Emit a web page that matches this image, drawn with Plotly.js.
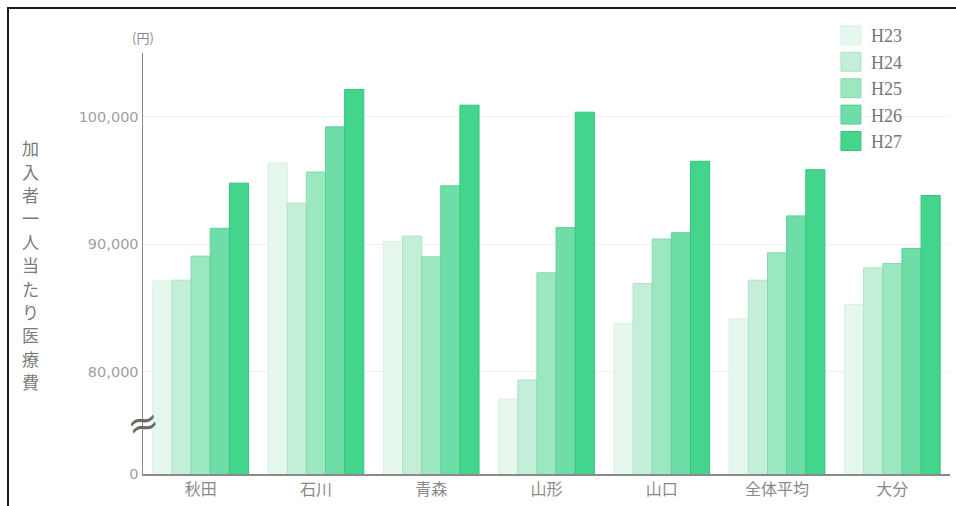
<!DOCTYPE html>
<html>
<head>
<meta charset="utf-8">
<script src="https://cdn.plot.ly/plotly-3.0.1.min.js"></script>
<style>
  html, body { margin: 0; padding: 0; background: #fff; overflow: hidden; }
  #chart { position: absolute; left: 0; top: 0; width: 956px; height: 506px; }
  #frame { position: absolute; left: 7px; top: 7px; width: 970px; height: 530px;
           border: 2.5px solid #1e1e1e; pointer-events: none; }
</style>
</head>
<body>
<div id="chart"></div>
<div id="frame"></div>
<script>
// ---- data ----
const categories = ['秋田', '石川', '青森', '山形', '山口', '全体平均', '大分'];
const seriesNames = ['H23', 'H24', 'H25', 'H26', 'H27'];
const H23 = [87130, 96380, 90210, 77870, 83780, 84170, 85300];
const H24 = [87190, 93230, 90650, 79370, 86930, 87190, 88160];
const H25 = [89080, 95670, 89020, 87770, 90420, 89340, 88500];
const H26 = [91260, 99210, 94590, 91310, 90910, 92230, 89680];
const H27 = [94800, 102140, 100910, 100360, 96510, 95850, 93830];
const tickValues = [72000, 80000, 90000, 100000];
const tickLabels = ['0', '80,000', '90,000', '100,000'];
const yTitleChars = ['加', '入', '者', '一', '人', '当', 'た', 'り', '医', '療', '費'];

// ---- styles ----
const fills = ['#e6f8ee', '#c3eed7', '#9be7c0', '#6fdda7', '#43d58b'];
const edges = ['#d8f0e3', '#b2e2c8', '#88d9b0', '#5ecf97', '#35c67d'];
const allSeries = [H23, H24, H25, H26, H27];

const traces = allSeries.map((vals, i) => ({
  type: 'bar',
  name: seriesNames[i],
  x: categories,
  y: vals,
  marker: { color: fills[i], line: { color: edges[i], width: 1 } },
  hoverinfo: 'x+y+name'
}));

const titleAnnotations = yTitleChars.map((ch, i) => ({
  text: ch, xref: 'paper', yref: 'paper', x: 0, y: 0.497,
  xanchor: 'center', yanchor: 'middle', xshift: -113,
  yshift: -(i - (yTitleChars.length - 1) / 2) * 23.4,
  showarrow: false,
  font: { family: 'Noto Sans CJK JP, sans-serif', size: 17, color: '#7a7a7a' }
}));

const layout = {
  width: 956,
  height: 506,
  margin: { l: 143, r: 6, t: 53, b: 32 },
  paper_bgcolor: '#ffffff',
  plot_bgcolor: '#ffffff',
  barmode: 'group',
  bargap: 0.17,
  bargroupgap: 0,
  showlegend: true,
  legend: {
    x: 0.8525, xanchor: 'left',
    y: 1.085, yanchor: 'top',
    bgcolor: 'rgba(0,0,0,0)',
    font: { family: 'Liberation Serif, serif', size: 18, color: '#777' },
    tracegroupgap: 0
  },
  xaxis: {
    type: 'category',
    showline: true, linecolor: '#8a8a8a', linewidth: 1.5,
    showgrid: false, zeroline: false, ticks: '',
    tickfont: { family: 'Noto Sans CJK JP, sans-serif', size: 16, color: '#8a8a8a' }
  },
  yaxis: {
    range: [72000, 105000],
    tickmode: 'array', tickvals: tickValues, ticktext: tickLabels,
    showline: true, linecolor: '#8a8a8a', linewidth: 1.5,
    showgrid: true, gridcolor: '#f1f1f1', gridwidth: 1,
    zeroline: false, ticks: '',
    tickfont: { family: 'DejaVu Sans, sans-serif', size: 14.5, color: '#a0a0a0' }
  },
  annotations: [
    {
      text: '(円)', xref: 'paper', yref: 'paper', x: 0, y: 1, xanchor: 'center', yanchor: 'bottom',
      yshift: 4, showarrow: false,
      font: { family: 'Noto Sans CJK JP, sans-serif', size: 13, color: '#8a8a8a' }
    },
    {
      text: '≈', xref: 'paper', yref: 'y', x: 0, y: 76000, xanchor: 'center', yanchor: 'middle',
      showarrow: false, textangle: -15,
      font: { family: 'DejaVu Sans, sans-serif', size: 38, color: '#6a6a6a' }
    }
  ].concat(titleAnnotations)
};

Plotly.newPlot('chart', traces, layout, { staticPlot: true }).then(() => {
  document.querySelectorAll('.legend .legendpoints path').forEach(p => {
    p.setAttribute('d', 'M-10,-9.5H10V9.5H-10Z');
    p.setAttribute('transform', 'translate(20,0)');
  });
});
</script>
</body>
</html>
